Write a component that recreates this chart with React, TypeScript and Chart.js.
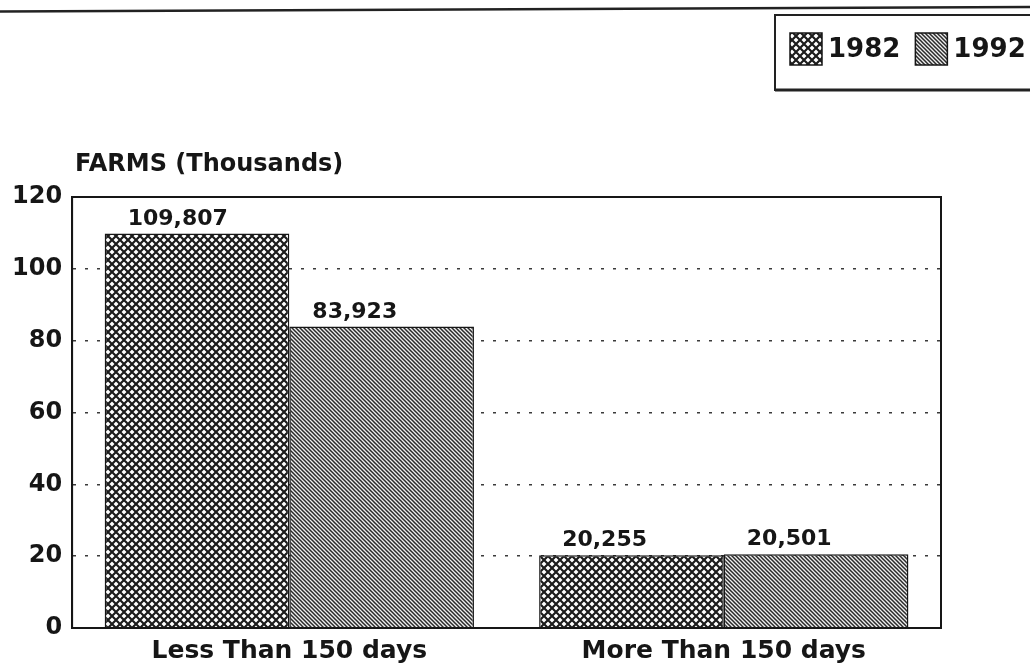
import { useEffect, useRef } from 'react';
import { Chart, registerables } from 'chart.js';

Chart.register(...registerables);

// Farms by grazing period, in thousands
const categories = ['Less Than 150 days', 'More Than 150 days'];
const seriesNames = ['1982', '1992'];
const farms1982 = [109.807, 20.255];
const farms1992 = [83.923, 20.501];
const yTicks = [0, 20, 40, 60, 80, 100, 120];
const axisCaption = 'FARMS (Thousands)';

const FONT = "'DejaVu Sans', 'Liberation Sans', Arial, sans-serif";
const INK = '#161616';

function makeCrossHatch(): CanvasPattern {
  const c = document.createElement('canvas');
  c.width = 8;
  c.height = 8;
  const g = c.getContext('2d')!;
  g.fillStyle = '#ffffff';
  g.fillRect(0, 0, 8, 8);
  g.strokeStyle = '#1c1c1c';
  g.lineWidth = 2.2;
  g.beginPath();
  g.moveTo(-1, -1);
  g.lineTo(9, 9);
  g.moveTo(9, -1);
  g.lineTo(-1, 9);
  g.stroke();
  return g.createPattern(c, 'repeat')!;
}

function makeDiagonalHatch(): CanvasPattern {
  const c = document.createElement('canvas');
  c.width = 4;
  c.height = 4;
  const g = c.getContext('2d')!;
  g.fillStyle = '#eeeeee';
  g.fillRect(0, 0, 4, 4);
  g.strokeStyle = '#2a2a2a';
  g.lineWidth = 1.5;
  g.beginPath();
  for (const k of [-4, 0, 4]) {
    g.moveTo(k - 1, -1);
    g.lineTo(k + 5, 5);
  }
  g.stroke();
  return g.createPattern(c, 'repeat')!;
}

const formatFarms = (v: number) => Math.round(v * 1000).toLocaleString('en-US');

const framePlugin = {
  id: 'farmFrame',
  beforeDraw(chart: any) {
    const { ctx, width } = chart;
    ctx.save();
    ctx.fillStyle = '#ffffff';
    ctx.fillRect(0, 0, width, chart.height);
    // rule across the top of the page
    ctx.strokeStyle = '#222';
    ctx.lineWidth = 2.5;
    ctx.beginPath();
    ctx.moveTo(0, 11.5);
    ctx.lineTo(width, 7);
    ctx.stroke();
    ctx.restore();
  },
  afterDatasetsDraw(chart: any) {
    const { ctx, chartArea } = chart;
    ctx.save();
    // box around the plot
    ctx.strokeStyle = INK;
    ctx.lineWidth = 2;
    ctx.strokeRect(chartArea.left, chartArea.top, chartArea.right - chartArea.left, chartArea.bottom - chartArea.top);

    // value labels above each bar
    ctx.fillStyle = INK;
    ctx.font = `bold 22px ${FONT}`;
    ctx.textAlign = 'left';
    ctx.textBaseline = 'alphabetic';
    chart.data.datasets.forEach((ds: any, di: number) => {
      const meta = chart.getDatasetMeta(di);
      meta.data.forEach((bar: any, i: number) => {
        const left = bar.x - bar.width / 2;
        ctx.fillText(formatFarms(ds.data[i]), left + 23, bar.y - 9);
      });
    });

    // axis caption above the y axis
    ctx.font = `bold 24px ${FONT}`;
    ctx.textBaseline = 'middle';
    ctx.fillText(axisCaption, chartArea.left + 3, 165);
    ctx.restore();
  },
  afterDraw(chart: any) {
    const { ctx } = chart;
    ctx.save();
    // legend frame
    ctx.strokeStyle = '#222';
    ctx.lineWidth = 2;
    ctx.strokeRect(775, 15, 300, 75);
    ctx.lineWidth = 3;
    ctx.beginPath();
    ctx.moveTo(775, 90);
    ctx.lineTo(chart.width, 90);
    ctx.stroke();

    ctx.font = `bold 26px ${FONT}`;
    ctx.textAlign = 'left';
    ctx.textBaseline = 'middle';
    let x = 790;
    chart.data.datasets.forEach((ds: any) => {
      ctx.fillStyle = ds.backgroundColor;
      ctx.fillRect(x, 33, 32, 32);
      ctx.strokeStyle = INK;
      ctx.lineWidth = 1.5;
      ctx.strokeRect(x, 33, 32, 32);
      x += 38;
      ctx.fillStyle = INK;
      ctx.fillText(ds.label, x, 50);
      x += ctx.measureText(ds.label).width + 15;
    });
    ctx.restore();
  },
};

export default function App() {
  const canvasRef = useRef<HTMLCanvasElement | null>(null);

  useEffect(() => {
    const canvas = canvasRef.current;
    if (!canvas) return;
    const chart = new Chart(canvas, {
      type: 'bar',
      data: {
        labels: categories,
        datasets: [
          {
            label: seriesNames[0],
            data: farms1982,
            backgroundColor: makeCrossHatch() as any,
            borderColor: INK,
            borderWidth: 1.5,
          },
          {
            label: seriesNames[1],
            data: farms1992,
            backgroundColor: makeDiagonalHatch() as any,
            borderColor: INK,
            borderWidth: 1.5,
          },
        ],
      },
      options: {
        animation: false,
        responsive: false,
        events: [],
        layout: { padding: { top: 197, right: 89, bottom: -6, left: 2 } },
        datasets: { bar: { categoryPercentage: 0.85, barPercentage: 1.0 } },
        plugins: {
          legend: { display: false },
          tooltip: { enabled: false },
          title: { display: false },
        },
        scales: {
          x: {
            grid: { display: false, drawTicks: false },
            border: { display: true, color: INK, width: 2 },
            ticks: {
              color: INK,
              padding: 8,
              font: { family: FONT, size: 25, weight: 'bold' },
            },
          },
          y: {
            min: 0,
            max: 120,
            afterBuildTicks: (axis: any) => {
              axis.ticks = yTicks.map((v) => ({ value: v }));
            },
            grid: {
              drawTicks: false,
              lineWidth: 1.5,
              color: (c: any) =>
                c.tick && (c.tick.value === 0 || c.tick.value === 120) ? 'rgba(0,0,0,0)' : '#3a3a3a',
            },
            border: { display: true, color: INK, width: 2, dash: [3, 9] },
            ticks: {
              color: INK,
              padding: 10,
              font: { family: FONT, size: 24, weight: 'bold' },
            },
          },
        },
      },
      plugins: [framePlugin],
    });
    return () => chart.destroy();
  }, []);

  return (
    <div style={{ position: 'absolute', left: 0, top: 0, width: 1030, height: 668, background: '#fff' }}>
      <canvas ref={canvasRef} width={1030} height={668} style={{ display: 'block' }} />
    </div>
  );
}
